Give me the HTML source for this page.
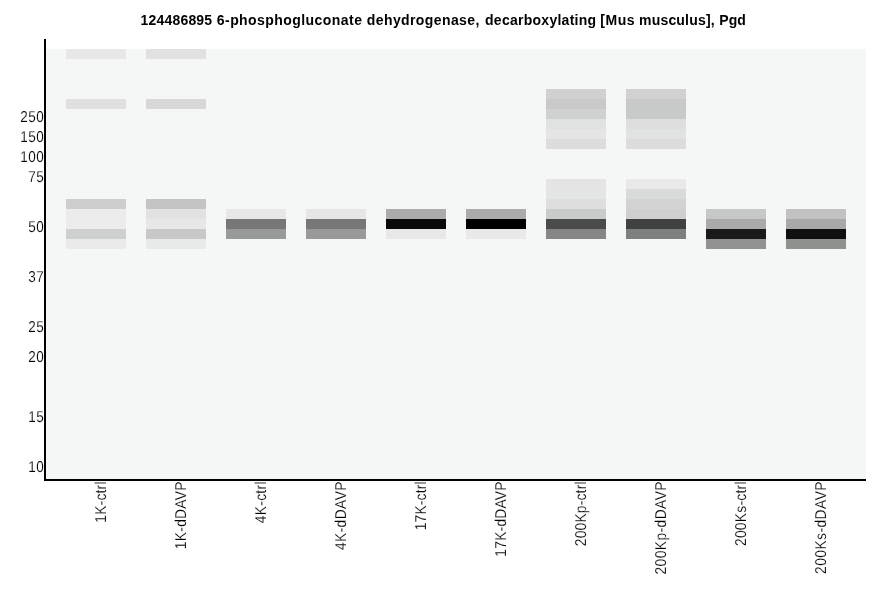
<!DOCTYPE html>
<html lang="en">
<head>
<meta charset="utf-8">
<title>124486895 6-phosphogluconate dehydrogenase, decarboxylating [Mus musculus], Pgd</title>
<style>
html,body{margin:0;padding:0;background:#fff;}
body{width:886px;height:595px;overflow:hidden;position:relative;font-family:"Liberation Sans",sans-serif;color:#000;}
svg{position:absolute;left:0;top:0;display:block;}
.t{font-family:"Liberation Sans",sans-serif;fill:#000;}
.yl,.xl{text-rendering:geometricPrecision;stroke:#fff;stroke-width:0.15px;}
.title{font-weight:bold;font-size:14px;letter-spacing:0.34px;}
.yl{font-size:15px;letter-spacing:0.55px;}
.xl{font-size:15px;letter-spacing:-0.15px;}
</style>
</head>
<body>
<svg width="886" height="595" viewBox="0 0 886 595">
<rect x="0" y="0" width="886" height="595" fill="#ffffff"/>
<g shape-rendering="crispEdges">
<rect x="46" y="49" width="820" height="430" fill="#f5f6f6"/>
<g>
<rect x="66" y="49" width="60" height="10" fill="#e7e7e7"/>
<rect x="66" y="99" width="60" height="10" fill="#e0e0e0"/>
<rect x="66" y="199" width="60" height="10" fill="#cecece"/>
<rect x="66" y="209" width="60" height="10" fill="#ebebeb"/>
<rect x="66" y="219" width="60" height="10" fill="#ececec"/>
<rect x="66" y="229" width="60" height="10" fill="#cdd0ce"/>
<rect x="66" y="239" width="60" height="10" fill="#eaeaea"/>
</g>
<g>
<rect x="146" y="49" width="60" height="10" fill="#e1e1e1"/>
<rect x="146" y="99" width="60" height="10" fill="#d8d8d8"/>
<rect x="146" y="199" width="60" height="10" fill="#c4c4c4"/>
<rect x="146" y="209" width="60" height="10" fill="#e2e2e2"/>
<rect x="146" y="219" width="60" height="10" fill="#e6e8e7"/>
<rect x="146" y="229" width="60" height="10" fill="#c8c8c8"/>
<rect x="146" y="239" width="60" height="10" fill="#e8eae9"/>
</g>
<g>
<rect x="226" y="209" width="60" height="10" fill="#e6e7e6"/>
<rect x="226" y="219" width="60" height="10" fill="#777777"/>
<rect x="226" y="229" width="60" height="10" fill="#989a99"/>
</g>
<g>
<rect x="306" y="209" width="60" height="10" fill="#e5e6e5"/>
<rect x="306" y="219" width="60" height="10" fill="#767876"/>
<rect x="306" y="229" width="60" height="10" fill="#999999"/>
</g>
<g>
<rect x="386" y="209" width="60" height="10" fill="#ababab"/>
<rect x="386" y="219" width="60" height="10" fill="#0a0a0a"/>
<rect x="386" y="229" width="60" height="10" fill="#e8e8e8"/>
</g>
<g>
<rect x="466" y="209" width="60" height="10" fill="#ababab"/>
<rect x="466" y="219" width="60" height="10" fill="#000000"/>
<rect x="466" y="229" width="60" height="10" fill="#e9e9e9"/>
</g>
<g>
<rect x="546" y="89" width="60" height="10" fill="#d0d0d0"/>
<rect x="546" y="99" width="60" height="10" fill="#c9c9c9"/>
<rect x="546" y="109" width="60" height="10" fill="#cfd2d0"/>
<rect x="546" y="119" width="60" height="10" fill="#dfe2e0"/>
<rect x="546" y="129" width="60" height="10" fill="#e5e5e5"/>
<rect x="546" y="139" width="60" height="10" fill="#dcdcdc"/>
<rect x="546" y="179" width="60" height="10" fill="#e4e4e4"/>
<rect x="546" y="189" width="60" height="10" fill="#e4e6e5"/>
<rect x="546" y="199" width="60" height="10" fill="#dedede"/>
<rect x="546" y="209" width="60" height="10" fill="#c8cbc9"/>
<rect x="546" y="219" width="60" height="10" fill="#4a4c4b"/>
<rect x="546" y="229" width="60" height="10" fill="#868686"/>
</g>
<g>
<rect x="626" y="89" width="60" height="10" fill="#d1d1d1"/>
<rect x="626" y="99" width="60" height="10" fill="#c7cac8"/>
<rect x="626" y="109" width="60" height="10" fill="#c8cac9"/>
<rect x="626" y="119" width="60" height="10" fill="#dedede"/>
<rect x="626" y="129" width="60" height="10" fill="#e0e3e1"/>
<rect x="626" y="139" width="60" height="10" fill="#dcdcdc"/>
<rect x="626" y="179" width="60" height="10" fill="#e8e9e8"/>
<rect x="626" y="189" width="60" height="10" fill="#d9dbda"/>
<rect x="626" y="199" width="60" height="10" fill="#d3d3d3"/>
<rect x="626" y="209" width="60" height="10" fill="#cfcfcf"/>
<rect x="626" y="219" width="60" height="10" fill="#404241"/>
<rect x="626" y="229" width="60" height="10" fill="#7e807f"/>
</g>
<g>
<rect x="706" y="209" width="60" height="10" fill="#c5c8c6"/>
<rect x="706" y="219" width="60" height="10" fill="#aaaaaa"/>
<rect x="706" y="229" width="60" height="10" fill="#1a1a1a"/>
<rect x="706" y="239" width="60" height="10" fill="#929292"/>
</g>
<g>
<rect x="786" y="209" width="60" height="10" fill="#c2c2c2"/>
<rect x="786" y="219" width="60" height="10" fill="#a8a8a8"/>
<rect x="786" y="229" width="60" height="10" fill="#101010"/>
<rect x="786" y="239" width="60" height="10" fill="#8f918f"/>
</g>
<rect x="44" y="39" width="2" height="442" fill="#000"/>
<rect x="44" y="479" width="822" height="2" fill="#000"/>
</g>
<g>
<text class="t title" y="25"><tspan x="140.6" style="letter-spacing:0.18px">124486895</tspan> <tspan x="216.8" style="letter-spacing:0.44px">6-phosphogluconate</tspan> <tspan x="366.8" style="letter-spacing:0.4px">dehydrogenase,</tspan> <tspan x="485.0" style="letter-spacing:0.27px">decarboxylating</tspan> <tspan x="600.2" style="letter-spacing:0.6px">[Mus</tspan> <tspan x="639.0" style="letter-spacing:0.2px">musculus],</tspan> <tspan x="719.3" style="letter-spacing:0.0px">Pgd</tspan></text>
<text class="t yl" transform="translate(44.2,122) scale(0.9,1.05)" text-anchor="end">250</text>
<text class="t yl" transform="translate(44.2,142) scale(0.9,1.05)" text-anchor="end">150</text>
<text class="t yl" transform="translate(44.2,162) scale(0.9,1.05)" text-anchor="end">100</text>
<text class="t yl" transform="translate(44.2,182) scale(0.9,1.05)" text-anchor="end">75</text>
<text class="t yl" transform="translate(44.2,232) scale(0.9,1.05)" text-anchor="end">50</text>
<text class="t yl" transform="translate(44.2,282) scale(0.9,1.05)" text-anchor="end">37</text>
<text class="t yl" transform="translate(44.2,332) scale(0.9,1.05)" text-anchor="end">25</text>
<text class="t yl" transform="translate(44.2,362) scale(0.9,1.05)" text-anchor="end">20</text>
<text class="t yl" transform="translate(44.2,422) scale(0.9,1.05)" text-anchor="end">15</text>
<text class="t yl" transform="translate(44.2,472) scale(0.9,1.05)" text-anchor="end">10</text>
<text class="t xl" transform="translate(106,481.28) rotate(-90) scale(0.92,1.05)" text-anchor="end" style="letter-spacing:0.24px">1K-ctrl</text>
<text class="t xl" transform="translate(186,481.22) rotate(-90) scale(0.92,1.05)" text-anchor="end" style="letter-spacing:0.3px">1K-dDAVP</text>
<text class="t xl" transform="translate(266,481.19) rotate(-90) scale(0.92,1.05)" text-anchor="end" style="letter-spacing:0.34px">4K-ctrl</text>
<text class="t xl" transform="translate(346,481.09) rotate(-90) scale(0.92,1.05)" text-anchor="end" style="letter-spacing:0.45px">4K-dDAVP</text>
<text class="t xl" transform="translate(426,481.33) rotate(-90) scale(0.92,1.05)" text-anchor="end" style="letter-spacing:0.19px">17K-ctrl</text>
<text class="t xl" transform="translate(506,481.28) rotate(-90) scale(0.92,1.05)" text-anchor="end" style="letter-spacing:0.24px">17K-dDAVP</text>
<text class="t xl" transform="translate(586,481.31) rotate(-90) scale(0.92,1.05)" text-anchor="end" style="letter-spacing:0.21px">200Kp-ctrl</text>
<text class="t xl" transform="translate(666,481.08) rotate(-90) scale(0.92,1.05)" text-anchor="end" style="letter-spacing:0.46px">200Kp-dDAVP</text>
<text class="t xl" transform="translate(746,481.23) rotate(-90) scale(0.92,1.05)" text-anchor="end" style="letter-spacing:0.29px">200Ks-ctrl</text>
<text class="t xl" transform="translate(826,481.06) rotate(-90) scale(0.92,1.05)" text-anchor="end" style="letter-spacing:0.48px">200Ks-dDAVP</text>
</g>
</svg>
</body>
</html>
